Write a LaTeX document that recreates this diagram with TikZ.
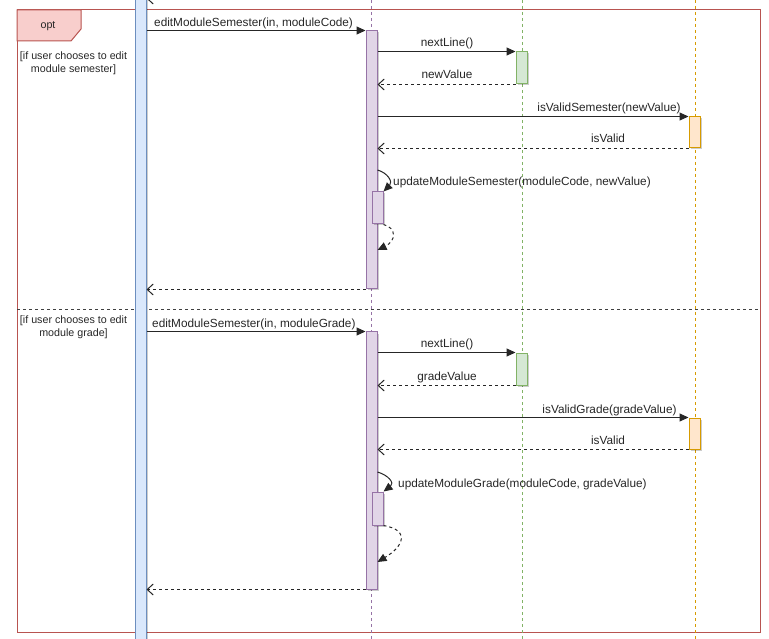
\documentclass[tikz,border=0pt]{standalone}
\usepackage{fontspec}
\setmainfont{Liberation Sans}
\usetikzlibrary{arrows.meta,shadows}
\definecolor{blueFill}{HTML}{DAE8FC}
\definecolor{blueLine}{HTML}{6C8EBF}
\definecolor{purpleFill}{HTML}{E1D5E7}
\definecolor{purpleLine}{HTML}{9673A6}
\definecolor{greenFill}{HTML}{D5E8D4}
\definecolor{greenLine}{HTML}{82B366}
\definecolor{orangeFill}{HTML}{FFE6CC}
\definecolor{orangeLine}{HTML}{D79B00}
\definecolor{redFill}{HTML}{F8CECC}
\definecolor{redLine}{HTML}{B85450}
\tikzset{
    % Basic activation bar
    actbar/.style={
        rectangle, minimum width=11pt, inner sep=0pt,
        line width=1pt,
        drop shadow={shadow xshift=1.5pt, shadow yshift=-1.5pt, opacity=0.2, fill=black}
    },
    % Coloured variants - one per participant
    blueact/.style={actbar, draw=blueLine, fill=blueFill},
    purpleact/.style={actbar, draw=purpleLine, fill=purpleFill},
    greenact/.style={actbar, draw=greenLine, fill=greenFill},
    orangeact/.style={actbar, draw=orangeLine, fill=orangeFill},
    % Lifelines
    lifeline/.style={line width=0.8pt, dash pattern=on 3pt off 3pt},
    purpleline/.style={lifeline, purpleLine},
    greenline/.style={lifeline, greenLine},
    orangeline/.style={lifeline, orangeLine},
    % Messages
    callarrow/.style={line width=1pt, black!85, -{Triangle[length=9pt,width=8pt]}},
    retarrow/.style={line width=1pt, black!85, dash pattern=on 3pt off 3pt,
        -{Straight Barb[length=6pt,width=11pt]}},
    selfret/.style={line width=1pt, black!85, dash pattern=on 3pt off 3pt,
        -{Triangle[length=9pt,width=8pt]}},
    msg/.style={font=\fontsize{11.8}{14}\selectfont, text=black!85, inner sep=0pt, anchor=base},
    % Frame
    framered/.style={line width=1pt, draw=redLine},
    separator/.style={line width=1pt, black!75, dash pattern=on 3pt off 3pt},
    guardtext/.style={font=\fontsize{10.7}{13}\selectfont, text=black!85, inner sep=0pt},
}
\begin{document}
\begin{tikzpicture}[x=1pt,y=-1pt]
  \useasboundingbox (0,0) rectangle (769,639);
  \clip (0,0) rectangle (769,639);

  % opt frame
  \draw[framered] (17,10) rectangle (760,632);
  \draw[framered, fill=redFill] (17,10) -- (81,10) -- (81,29) -- (71,41) -- (17,41) -- cycle;
  \node[guardtext] (opt) at (48,26) {opt};
  \draw[separator] (17,310) -- (760,310);
  \node[guardtext, align=center] (guardsem) at (73.5,63) {[if user chooses to edit\\module semester]};
  \node[guardtext, align=center] (guardgrade) at (73.5,327.5) {[if user chooses to edit\\module grade]};

  % lifelines
  \draw[purpleline] (371,0) -- (371,639);
  \draw[greenline] (522,0) -- (522,639);
  \draw[orangeline] (695,0) -- (695,639);

  % activation bars
  \node[blueact, minimum height=680pt] (user) at (140.5,319.5) {};
  \node[greenact, minimum height=32pt] (uiprev) at (521.5,-18) {};
  \node[purpleact, minimum height=258pt] (semact) at (371.5,160) {};
  \node[purpleact, minimum height=32pt] (semsub) at (377.5,208) {};
  \node[greenact, minimum height=32pt] (uisem) at (521.5,68) {};
  \node[orangeact, minimum height=31pt] (chksem) at (694.5,132.5) {};
  \node[purpleact, minimum height=257pt] (gradeact) at (371.5,460.5) {};
  \node[purpleact, minimum height=33pt] (gradesub) at (377.5,508.5) {};
  \node[greenact, minimum height=32pt] (uigrade) at (521.5,369) {};
  \node[orangeact, minimum height=31pt] (chkgrade) at (694.5,433.5) {};

  % return above the frame
  \draw[retarrow] (uiprev.south west) -- (user.east |- uiprev.south);

  % edit module semester
  \draw[callarrow] (user.east |- semact.north) -- (semact.north west);
  \node[msg, anchor=base west] at (154,27) {editModuleSemester(in, moduleCode)};
  \draw[callarrow] (semact.east |- uisem.north) -- (uisem.north west);
  \node[msg] at (447,47) {nextLine()};
  \draw[retarrow] (uisem.south west) -- (semact.east |- uisem.south);
  \node[msg] at (447,79) {newValue};
  \draw[callarrow] (semact.east |- chksem.north) -- (chksem.north west);
  \node[msg] at (609,112) {isValidSemester(newValue)};
  \draw[retarrow] (chksem.south west) -- (semact.east |- chksem.south);
  \node[msg] at (608,143) {isValid};
  \draw[callarrow] (semact.east |- 0,170) .. controls (388,173) and (393,182) .. (semsub.north east);
  \node[msg, anchor=base west] at (393,186) {updateModuleSemester(moduleCode, newValue)};
  \draw[selfret] (semsub.south east) .. controls (397,228) and (396,241) .. (semact.east |- 0,250);
  \draw[retarrow] (semact.south west) -- (user.east |- semact.south);

  % edit module grade
  \draw[callarrow] (user.east |- gradeact.north) -- (gradeact.north west);
  \node[msg, anchor=base west] at (152,327) {editModuleSemester(in, moduleGrade)};
  \draw[callarrow] (gradeact.east |- uigrade.north) -- (uigrade.north west);
  \node[msg] at (447,348) {nextLine()};
  \draw[retarrow] (uigrade.south west) -- (gradeact.east |- uigrade.south);
  \node[msg] at (447,380) {gradeValue};
  \draw[callarrow] (gradeact.east |- chkgrade.north) -- (chkgrade.north west);
  \node[msg] at (609.5,413) {isValidGrade(gradeValue)};
  \draw[retarrow] (chkgrade.south west) -- (gradeact.east |- chkgrade.south);
  \node[msg] at (608,444) {isValid};
  \draw[callarrow] (gradeact.east |- 0,472) .. controls (388,475) and (395,483) .. (gradesub.north east);
  \node[msg, anchor=base west] at (398,487) {updateModuleGrade(moduleCode, gradeValue)};
  \draw[selfret] (gradesub.south east) .. controls (410,530) and (404,546) .. (gradeact.east |- 0,562);
  \draw[retarrow] (gradeact.south west) -- (user.east |- gradeact.south);
\end{tikzpicture}
\end{document}
